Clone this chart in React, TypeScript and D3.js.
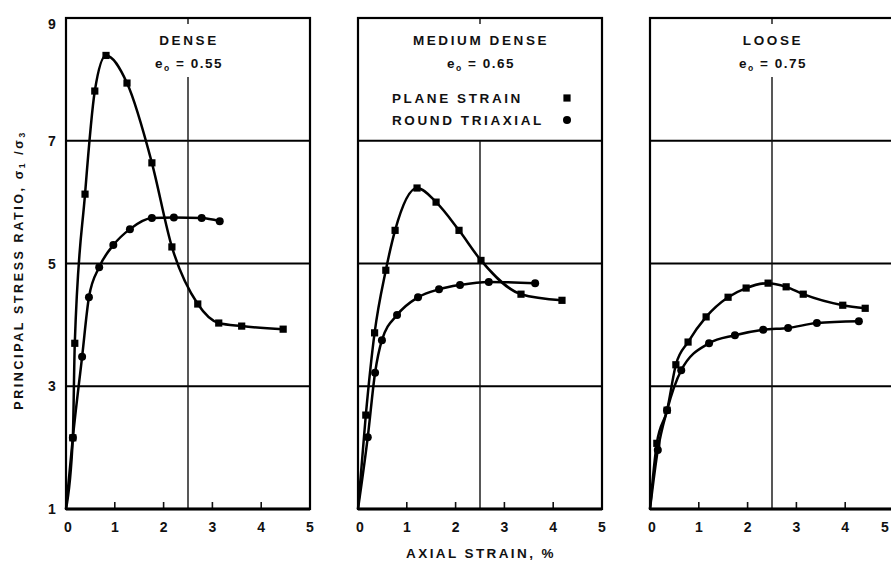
import React from "react";
import * as d3 from "d3";

// axial strain (%) / principal stress ratio pairs
const strainTicks = [0, 1, 2, 3, 4, 5];
const ratioTicks = [1, 3, 5, 7, 9];
const gridRatios = [3, 5, 7];
const panelNames = ["DENSE", "MEDIUM DENSE", "LOOSE"];
const voidRatios = ["0.55", "0.65", "0.75"];

const densePlane = [[0, 1], [0.14, 2.16], [0.18, 3.7], [0.39, 6.13], [0.59, 7.81], [0.82, 8.39], [1.25, 7.94], [1.76, 6.64], [2.17, 5.27], [2.7, 4.34], [3.13, 4.03], [3.6, 3.98], [4.45, 3.93]];
const denseRound = [[0, 1], [0.14, 2.16], [0.33, 3.48], [0.47, 4.45], [0.68, 4.94], [0.97, 5.3], [1.31, 5.56], [1.76, 5.74], [2.21, 5.75], [2.78, 5.74], [3.15, 5.69]];
const mediumPlane = [[0, 1], [0.16, 2.53], [0.34, 3.87], [0.57, 4.89], [0.76, 5.54], [1.21, 6.23], [1.6, 6.0], [2.07, 5.54], [2.52, 5.05], [3.34, 4.5], [4.18, 4.4]];
const mediumRound = [[0, 1], [0.2, 2.17], [0.35, 3.22], [0.49, 3.75], [0.8, 4.16], [1.23, 4.45], [1.66, 4.58], [2.09, 4.65], [2.68, 4.7], [3.63, 4.68]];
const loosePlane = [[0, 1], [0.14, 2.07], [0.35, 2.61], [0.53, 3.35], [0.78, 3.72], [1.15, 4.13], [1.6, 4.45], [1.97, 4.6], [2.42, 4.68], [2.79, 4.62], [3.14, 4.5], [3.95, 4.32], [4.41, 4.27]];
const looseRound = [[0, 1], [0.16, 1.96], [0.35, 2.61], [0.64, 3.26], [1.21, 3.7], [1.74, 3.83], [2.32, 3.92], [2.83, 3.95], [3.42, 4.03], [4.28, 4.06]];

const planeSeries = [densePlane, mediumPlane, loosePlane];
const roundSeries = [denseRound, mediumRound, looseRound];

const W = 891, H = 561;
const panelLefts = [66, 358, 650];
const panelW = 244;
const top = 18, bottom = 509;
const font = "'Liberation Sans', Arial, sans-serif";

const y = d3.scaleLinear().domain([1, 9]).range([bottom, top]);

function Panel({ i }: { i: number }) {
  const left = panelLefts[i];
  const x = d3.scaleLinear().domain([0, 5]).range([left, left + panelW]);
  const line = d3.line<number[]>().x(d => x(d[0])).y(d => y(d[1])).curve(d3.curveMonotoneX);
  const midX = x(2.5);
  // vertical grid starts under the labels
  const vStart = i === 1 ? y(7) : 77;

  // keep the last tick label of the right panel inside the picture
  const labelX = (t: number) => {
    const px = x(t) + (t === 0 ? 2 : 0);
    return Math.min(px, W - 6);
  };

  return (
    <g>
      {gridRatios.map(g => (
        <line key={g} x1={left} x2={left + panelW} y1={y(g)} y2={y(g)} stroke="#000" strokeWidth={1.8} />
      ))}
      <line x1={midX} x2={midX} y1={vStart} y2={bottom} stroke="#111" strokeWidth={1.4} />
      <line x1={midX} x2={midX} y1={top} y2={top + 6} stroke="#111" strokeWidth={1.4} />
      {strainTicks.slice(1, 5).map(t => (
        <line key={t} x1={x(t)} x2={x(t)} y1={bottom} y2={bottom - 7} stroke="#111" strokeWidth={1.6} />
      ))}
      <rect x={left} y={top} width={panelW} height={bottom - top} fill="none" stroke="#000" strokeWidth={2.2} />
      <line x1={left} x2={left + panelW} y1={bottom} y2={bottom} stroke="#000" strokeWidth={2.8} />

      {strainTicks.map(t => (
        <text key={t} x={labelX(t)} y={bottom + 23} textAnchor="middle" fontSize={14} fontWeight="bold" fontFamily={font} fill="#111">{t}</text>
      ))}

      <text x={midX + 1} y={45} textAnchor="middle" fontSize={13.5} fontWeight="bold" letterSpacing={2.6} fontFamily={font} fill="#111">{panelNames[i]}</text>
      <text x={midX + 1} y={68} textAnchor="middle" fontSize={13.5} fontWeight="bold" letterSpacing={1.5} fontFamily={font} fill="#111">
        e<tspan fontSize={8.5} dy={3}>o</tspan><tspan dy={-3}>{" = " + voidRatios[i]}</tspan>
      </text>

      <path d={line(planeSeries[i]) || ""} fill="none" stroke="#000" strokeWidth={2.5} />
      <path d={line(roundSeries[i]) || ""} fill="none" stroke="#000" strokeWidth={2.5} />
      {planeSeries[i].filter(d => d[0] > 0).map((d, k) => (
        <rect key={"p" + k} x={x(d[0]) - 3.6} y={y(d[1]) - 3.6} width={7.2} height={7.2} fill="#000" />
      ))}
      {roundSeries[i].filter(d => d[0] > 0).map((d, k) => (
        <circle key={"r" + k} cx={x(d[0])} cy={y(d[1])} r={4} fill="#000" />
      ))}
    </g>
  );
}

export default function App() {
  const legendX = 392;
  return (
    <svg width={W} height={H} style={{ position: "absolute", left: 0, top: 0, background: "#fff" }}>
      {panelNames.map((_, i) => <Panel key={i} i={i} />)}

      {ratioTicks.map(t => (
        <text key={t} x={52} y={y(t) + 5 + (t === 9 ? 6 : 0)} textAnchor="middle" fontSize={14} fontWeight="bold" fontFamily={font} fill="#111">{t}</text>
      ))}

      <text transform="translate(20,270) rotate(-90)" textAnchor="middle" dominantBaseline="middle" fontSize={12.5} fontWeight="bold" letterSpacing={2.6} fontFamily={font} fill="#111">
        PRINCIPAL STRESS RATIO, σ<tspan fontSize={8.5} dy={3}>1</tspan><tspan dy={-3}> /σ</tspan><tspan fontSize={8.5} dy={3}>3</tspan>
      </text>

      <text x={481} y={558} textAnchor="middle" fontSize={13.5} fontWeight="bold" letterSpacing={2.4} fontFamily={font} fill="#111">AXIAL STRAIN, %</text>

      <text x={legendX} y={103} fontSize={13.5} fontWeight="bold" letterSpacing={2.6} fontFamily={font} fill="#111">PLANE STRAIN</text>
      <text x={legendX} y={125} fontSize={13.5} fontWeight="bold" letterSpacing={2.6} fontFamily={font} fill="#111">ROUND TRIAXIAL</text>
      <rect x={567 - 3.6} y={98 - 3.6} width={7.2} height={7.2} fill="#000" />
      <circle cx={567} cy={120} r={4} fill="#000" />
    </svg>
  );
}
